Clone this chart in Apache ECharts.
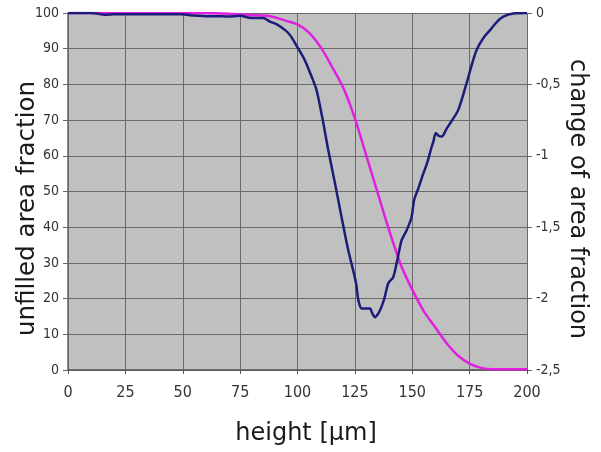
<!DOCTYPE html>
<html>
<head>
<meta charset="utf-8">
<script src="https://cdn.jsdelivr.net/npm/echarts@6/dist/echarts.min.js"></script>
<style>html,body{margin:0;padding:0;background:#fff}#c{width:601px;height:452px}</style>
</head>
<body>
<div id="c"></div>
<script>
// x ticks (height in µm)
const xTicks = [0, 25, 50, 75, 100, 125, 150, 175, 200];
// unfilled area fraction (left axis) — magenta
const unfilledX = [0, 60, 70, 80, 88, 95, 100, 105, 110, 115, 120, 125, 130, 135, 140, 145, 150, 155, 160, 165, 170, 175, 180, 185, 200];
const unfilledY = [100, 100, 99.8, 99.4, 99.1, 97.8, 96.8, 94.5, 90.5, 85, 79, 70.5, 60, 49.5, 39, 29.5, 22.5, 16.5, 12, 7.5, 4, 1.8, 0.6, 0.2, 0.2];
// change of area fraction (right axis) — navy
const changeX = [0, 10, 15, 17, 19, 22, 40, 50, 53, 57, 60, 65, 70, 75, 80, 85, 88, 91, 95, 97, 100, 103, 106, 108.3, 111, 113.4, 116.3, 119.2, 122.1, 125.5, 126.5, 128, 130, 131.6, 132.5, 133.8, 135, 136, 137, 138, 139.6, 141.7, 143.2, 144.5, 145.4, 147.6, 149.7, 150.8, 152.6, 154.8, 156.5, 158.4, 159.2, 160.3, 161.5, 162.8, 165, 167, 170, 173.7, 176, 178, 181, 183.9, 187, 189.7, 194, 200];
const changeY = [0, 0, -0.01, -0.012, -0.01, -0.008, -0.008, -0.008, -0.015, -0.02, -0.022, -0.022, -0.025, -0.02, -0.035, -0.035, -0.06, -0.08, -0.125, -0.16, -0.24, -0.325, -0.44, -0.54, -0.75, -0.96, -1.19, -1.43, -1.66, -1.89, -2.01, -2.07, -2.07, -2.07, -2.1, -2.13, -2.11, -2.08, -2.04, -1.99, -1.89, -1.85, -1.75, -1.65, -1.59, -1.52, -1.43, -1.31, -1.23, -1.125, -1.05, -0.94, -0.9, -0.84, -0.86, -0.865, -0.81, -0.76, -0.68, -0.49, -0.36, -0.26, -0.175, -0.12, -0.06, -0.025, -0.003, 0];
// left/right axis ticks
const leftTicks = [0, 10, 20, 30, 40, 50, 60, 70, 80, 90, 100];
const rightTicks = [-2.5, -2, -1.5, -1, -0.5, 0];

const chart = echarts.init(document.getElementById('c'), null, {renderer: 'canvas'});
const narrow = '"Liberation Sans Narrow", "Arial Narrow", "DejaVu Sans Condensed", sans-serif';
const titleFont = '"DejaVu Sans", Verdana, sans-serif';
chart.setOption({
  animation: false,
  backgroundColor: '#ffffff',
  grid: {left: 68, right: 74, top: 13, bottom: 82, show: true, backgroundColor: '#c0c0c0', borderWidth: 0,
    containLabel: false, outerBoundsMode: 'none'},
  xAxis: {
    type: 'value', min: xTicks[0], max: xTicks[xTicks.length - 1], interval: 25,
    name: 'height [µm]', nameLocation: 'middle', nameGap: 52,
    nameTextStyle: {fontFamily: titleFont, fontSize: 24, color: '#1a1a1a', padding: [0, 0, 0, 17]},
    axisLine: {show: true, lineStyle: {color: '#555', width: 1.5}},
    axisTick: {show: true, length: 4, lineStyle: {color: '#555'}},
    axisLabel: {fontFamily: narrow, fontSize: 16, color: '#333', margin: 15},
    splitLine: {show: true, lineStyle: {color: '#6a6a6a', width: 1}}
  },
  yAxis: [{
    type: 'value', min: leftTicks[0], max: leftTicks[leftTicks.length - 1], interval: 10,
    name: 'unfilled area fraction', nameLocation: 'middle', nameGap: 28, nameRotate: 90,
    nameMoveOverlap: false,
    nameTextStyle: {fontFamily: titleFont, fontSize: 24.5, color: '#1a1a1a', padding: [0, 34, 0, 0]},
    axisLine: {show: true, lineStyle: {color: '#666', width: 1.5}},
    axisTick: {show: true, length: 5, lineStyle: {color: '#666'}},
    axisLabel: {fontFamily: narrow, fontSize: 14, color: '#333', margin: 9},
    splitLine: {show: true, lineStyle: {color: '#6a6a6a', width: 1}}
  }, {
    type: 'value', min: rightTicks[0], max: rightTicks[rightTicks.length - 1], interval: 0.5,
    position: 'right',
    name: 'change of area fraction', nameLocation: 'middle', nameGap: 38, nameRotate: -90,
    nameMoveOverlap: false,
    nameTextStyle: {fontFamily: titleFont, fontSize: 24, color: '#1a1a1a', padding: [0, 0, 0, 15]},
    axisLine: {show: false},
    axisTick: {show: true, length: 5, lineStyle: {color: '#666'}},
    axisLabel: {fontFamily: narrow, fontSize: 14, color: '#333', margin: 9,
      formatter: v => String(v).replace('.', ',')},
    splitLine: {show: false}
  }],
  series: [{
    type: 'line', yAxisIndex: 0, showSymbol: false, smooth: 0.3,
    data: unfilledX.map((x, i) => [x, unfilledY[i]]),
    lineStyle: {color: '#e020e0', width: 2.5}
  }, {
    type: 'line', yAxisIndex: 1, showSymbol: false, smooth: 0.3,
    data: changeX.map((x, i) => [x, changeY[i]]),
    lineStyle: {color: '#1c1c7a', width: 2.5}
  }]
});
</script>
</body>
</html>
